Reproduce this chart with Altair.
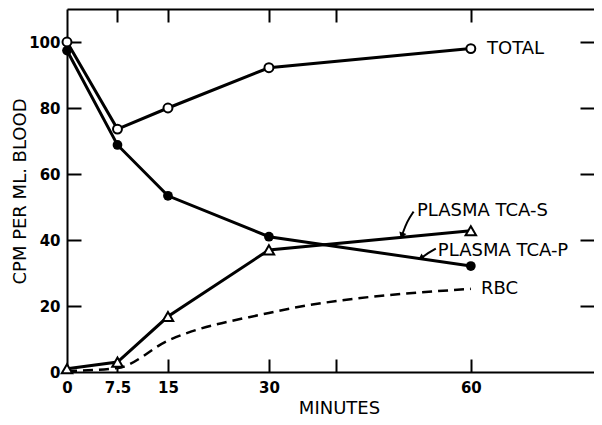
import altair as alt
import pandas as pd

# ---- data ----
minutes = [0, 7.5, 15, 30, 60]
total = [100, 73.6, 80, 92.2, 98]
tca_p = [97.4, 68.8, 53.4, 41, 32.1]
tca_s = [1, 3, 16.8, 37, 42.8]
rbc = [0.3, 1.2, 9.5, 17.9, 25.2]

x_label_values = [0, 7.5, 15, 30, 60]
x_tick_values = [7.5, 15, 30, 40, 60]
y_label_values = [0, 20, 40, 60, 80, 100]
y_tick_values = [20, 40, 60, 80, 100]

label_texts = ["TOTAL", "PLASMA TCA-S", "PLASMA TCA-P", "RBC"]
label_x = [62.4, 52.0, 55.1, 61.5]
label_y = [98, 48.8, 36.7, 25.2]

arrow_id = ["s", "s", "s", "p", "p", "p"]
arrow_x = [51.5, 50.5, 49.8, 54.8, 53.6, 52.7]
arrow_y = [48.6, 45.6, 41.6, 37.4, 36.0, 34.6]
arrow_head_angle = [200, 238]

FONT = "DejaVu Sans"

def long(name, ys):
    return pd.DataFrame({"minute": minutes, "value": ys, "series": name})

df_solid = pd.concat([long("TOTAL", total), long("TCA-P", tca_p), long("TCA-S", tca_s)])
df_total = long("TOTAL", total)
df_p = long("TCA-P", tca_p)
df_s = long("TCA-S", tca_s)
df_rbc = long("RBC", rbc)
df_labels = pd.DataFrame({"minute": label_x, "value": label_y, "text": label_texts})
df_arrows = pd.DataFrame({"minute": arrow_x, "value": arrow_y, "id": arrow_id,
                          "order": list(range(len(arrow_x)))})
df_heads = pd.DataFrame({"minute": arrow_x[2::3], "value": arrow_y[2::3], "angle": arrow_head_angle})
df_anchor = pd.DataFrame({"minute": [0], "value": [0]})

xscale = alt.Scale(domain=[0, 78.3], nice=False, zero=False)
yscale = alt.Scale(domain=[0, 110], nice=False)

def X(axis):
    return alt.X("minute:Q", scale=xscale, axis=axis)

def Y(axis):
    return alt.Y("value:Q", scale=yscale, axis=axis)

common_tick = dict(tickColor="black", tickWidth=2, domain=False, labels=False, title=None, grid=False)

ax_y_main = alt.Axis(orient="left", values=y_label_values, ticks=False, domain=True,
                     domainColor="black", domainWidth=2, grid=False,
                     labelFont=FONT, labelFontSize=15, labelFontWeight="bold", labelColor="black",
                     labelPadding=7, title="CPM PER ML. BLOOD", titleFont=FONT, titleFontSize=18,
                     titleFontWeight="normal", titleColor="black", titleX=-47, titleY=182,
                     titleAlign="center", titleBaseline="middle", titleAngle=270)
ax_y_tick_l = alt.Axis(orient="left", offset=-14, values=y_tick_values, tickSize=14, **common_tick)
ax_y_tick_r = alt.Axis(orient="right", offset=-14, values=y_tick_values, tickSize=14, **common_tick)

ax_x_main = alt.Axis(orient="bottom", values=x_label_values, labelExpr="'' + datum.value",
                     ticks=False, domain=True,
                     domainColor="black", domainWidth=2, grid=False, labelFlush=False,
                     labelOverlap=False, labelFont=FONT, labelFontSize=15, labelFontWeight="bold",
                     labelColor="black", labelPadding=8, title="MINUTES", titleFont=FONT,
                     titleFontSize=18, titleFontWeight="normal", titleColor="black",
                     titleX=272, titleY=36, titleAlign="center", titleBaseline="middle")
ax_x_tick_b = alt.Axis(orient="bottom", offset=-13, values=x_tick_values, tickSize=13, **common_tick)
ax_x_top = alt.Axis(orient="top", ticks=False, labels=False, domain=True, domainColor="black",
                    domainWidth=2, title=None, grid=False)
ax_x_tick_t = alt.Axis(orient="top", offset=-13, values=x_tick_values, tickSize=13, **common_tick)

axis_layers = [
    alt.Chart(df_anchor).mark_point(opacity=0).encode(x=X(ax_x_main), y=Y(ax_y_main)),
    alt.Chart(df_anchor).mark_point(opacity=0).encode(x=X(ax_x_tick_b), y=Y(ax_y_tick_l)),
    alt.Chart(df_anchor).mark_point(opacity=0).encode(x=X(ax_x_top), y=Y(ax_y_tick_r)),
    alt.Chart(df_anchor).mark_point(opacity=0).encode(x=X(ax_x_tick_t), y=Y(None)),
]

lines = alt.Chart(df_solid).mark_line(color="black", strokeWidth=3).encode(
    x=X(None), y=Y(None), detail="series:N")
rbc_line = alt.Chart(df_rbc).mark_line(color="black", strokeWidth=2.5, strokeDash=[10, 6],
                                       interpolate="monotone").encode(x=X(None), y=Y(None))
pts_total = alt.Chart(df_total).mark_point(shape="circle", filled=True, fill="white", stroke="black",
                                           strokeWidth=2, size=80, opacity=1).encode(x=X(None), y=Y(None))
pts_p = alt.Chart(df_p).mark_point(shape="circle", filled=True, color="black", size=95,
                                   opacity=1).encode(x=X(None), y=Y(None))
pts_s = alt.Chart(df_s).mark_point(shape="triangle-up", filled=True, fill="white", stroke="black",
                                   strokeWidth=2, size=110, opacity=1).encode(x=X(None), y=Y(None))
labels = alt.Chart(df_labels).mark_text(align="left", baseline="middle", font=FONT, fontSize=18,
                                        color="black").encode(x=X(None), y=Y(None), text="text:N")
arrows = alt.Chart(df_arrows).mark_line(color="black", strokeWidth=2, interpolate="basis").encode(
    x=X(None), y=Y(None), detail="id:N", order="order:Q")
heads = alt.Chart(df_heads).mark_point(shape="triangle", filled=True, color="black", size=55,
                                       opacity=1).encode(x=X(None), y=Y(None), angle=alt.Angle("angle:Q", scale=None))

chart = alt.layer(
    *axis_layers, rbc_line, lines, pts_total, pts_p, pts_s, arrows, heads, labels
).resolve_axis(x="independent", y="independent").properties(
    width=527, height=363,
    autosize=alt.AutoSizeParams(type="none"),
    padding={"left": 59, "top": 1, "right": 0, "bottom": 45},
).configure_view(stroke=None)

chart.save("out.html", embed_options={"renderer": "svg", "actions": False})
